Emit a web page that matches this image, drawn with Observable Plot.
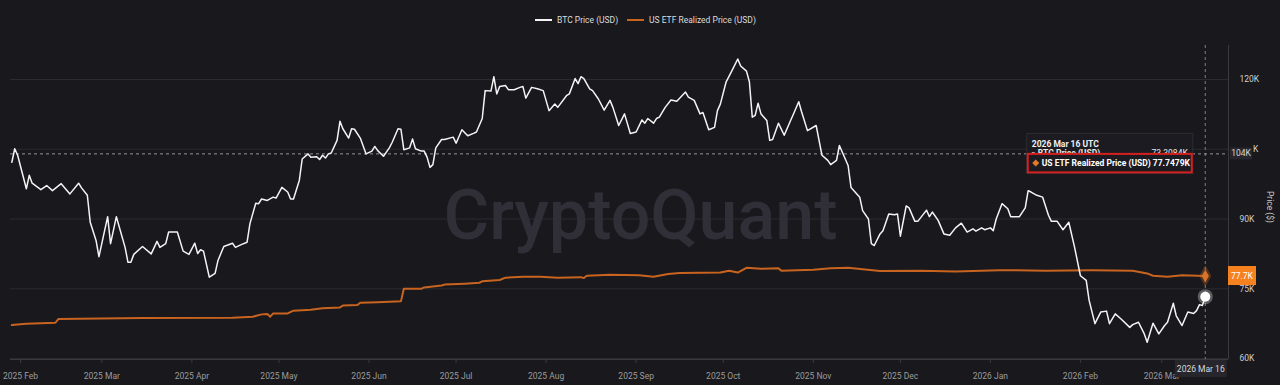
<!DOCTYPE html>
<html><head><meta charset="utf-8">
<script src="https://cdn.jsdelivr.net/npm/d3@7"></script>
<script src="https://cdn.jsdelivr.net/npm/@observablehq/plot@0.6"></script>
<style>
html,body{margin:0;padding:0;background:#18181d;width:1280px;height:385px;overflow:hidden;font-family:Roboto,"Noto Sans",sans-serif;}
#legend{position:relative;height:40px;width:1280px;}
.item{position:absolute;top:15px;display:flex;align-items:center;font-size:8.5px;color:#dcdcdc;white-space:nowrap;}
.sw{width:17px;height:2px;margin-right:5px;}
#chart{position:absolute;top:40px;left:0;}
</style></head><body>
<div id="legend">
  <div class="item" style="left:535px"><span class="sw" style="background:#f4f4f4"></span>BTC Price (USD)</div>
  <div class="item" style="left:627px"><span class="sw" style="background:#c8641f"></span>US ETF Realized Price (USD)</div>
</div>
<div id="chart"></div>
<script>
const btcDates = ["2025-01-29","2025-01-30","2025-01-31","2025-02-03","2025-02-04","2025-02-05","2025-02-08","2025-02-10","2025-02-12","2025-02-15","2025-02-18","2025-02-21","2025-02-22","2025-02-24","2025-02-25","2025-02-27","2025-02-28","2025-03-03","2025-03-04","2025-03-06","2025-03-09","2025-03-10","2025-03-11","2025-03-12","2025-03-15","2025-03-18","2025-03-20","2025-03-21","2025-03-23","2025-03-24","2025-03-27","2025-03-29","2025-03-31","2025-04-02","2025-04-03","2025-04-04","2025-04-05","2025-04-07","2025-04-09","2025-04-10","2025-04-12","2025-04-15","2025-04-16","2025-04-18","2025-04-20","2025-04-21","2025-04-23","2025-04-24","2025-04-25","2025-04-27","2025-04-29","2025-04-30","2025-05-02","2025-05-04","2025-05-05","2025-05-06","2025-05-08","2025-05-09","2025-05-11","2025-05-12","2025-05-14","2025-05-15","2025-05-16","2025-05-17","2025-05-18","2025-05-19","2025-05-21","2025-05-22","2025-05-23","2025-05-25","2025-05-26","2025-05-27","2025-05-29","2025-05-31","2025-06-02","2025-06-03","2025-06-04","2025-06-06","2025-06-08","2025-06-09","2025-06-11","2025-06-12","2025-06-13","2025-06-15","2025-06-16","2025-06-17","2025-06-19","2025-06-20","2025-06-21","2025-06-22","2025-06-23","2025-06-24","2025-06-26","2025-06-27","2025-06-30","2025-07-01","2025-07-03","2025-07-05","2025-07-07","2025-07-08","2025-07-10","2025-07-11","2025-07-13","2025-07-14","2025-07-15","2025-07-16","2025-07-18","2025-07-19","2025-07-21","2025-07-23","2025-07-24","2025-07-25","2025-07-27","2025-07-29","2025-07-31","2025-08-02","2025-08-04","2025-08-05","2025-08-08","2025-08-09","2025-08-11","2025-08-12","2025-08-13","2025-08-14","2025-08-16","2025-08-17","2025-08-19","2025-08-21","2025-08-23","2025-08-24","2025-08-26","2025-08-28","2025-08-30","2025-09-01","2025-09-03","2025-09-04","2025-09-05","2025-09-07","2025-09-08","2025-09-09","2025-09-11","2025-09-13","2025-09-15","2025-09-18","2025-09-19","2025-09-21","2025-09-23","2025-09-24","2025-09-26","2025-09-28","2025-09-29","2025-09-30","2025-10-02","2025-10-04","2025-10-06","2025-10-07","2025-10-09","2025-10-10","2025-10-11","2025-10-12","2025-10-13","2025-10-14","2025-10-16","2025-10-17","2025-10-18","2025-10-20","2025-10-22","2025-10-24","2025-10-25","2025-10-27","2025-10-28","2025-10-30","2025-11-02","2025-11-04","2025-11-06","2025-11-07","2025-11-09","2025-11-10","2025-11-13","2025-11-14","2025-11-17","2025-11-18","2025-11-20","2025-11-21","2025-11-22","2025-11-24","2025-11-25","2025-11-27","2025-11-29","2025-11-30","2025-12-01","2025-12-03","2025-12-04","2025-12-06","2025-12-07","2025-12-09","2025-12-10","2025-12-11","2025-12-12","2025-12-14","2025-12-16","2025-12-18","2025-12-20","2025-12-22","2025-12-24","2025-12-26","2025-12-27","2025-12-29","2025-12-30","2026-01-01","2026-01-02","2026-01-03","2026-01-05","2026-01-07","2026-01-08","2026-01-11","2026-01-13","2026-01-14","2026-01-15","2026-01-17","2026-01-19","2026-01-21","2026-01-22","2026-01-24","2026-01-26","2026-01-28","2026-01-30","2026-02-01","2026-02-03","2026-02-04","2026-02-06","2026-02-08","2026-02-10","2026-02-11","2026-02-13","2026-02-15","2026-02-18","2026-02-19","2026-02-21","2026-02-23","2026-02-24","2026-02-26","2026-02-28","2026-03-02","2026-03-03","2026-03-05","2026-03-06","2026-03-08","2026-03-10","2026-03-12","2026-03-13","2026-03-14","2026-03-15","2026-03-16"];
const btcValues = [102.2,105.1,103.7,96.5,99.4,97.7,96.3,97.2,96.1,97.6,95.4,97.7,96.7,95.1,89.3,85.4,81.9,90.5,84.7,90.5,83.9,80.7,80.7,82.4,84.1,82.5,85.2,83.9,84.7,87.2,87.2,83.1,82.4,84.8,82.6,83.4,83.1,77.5,78.3,81.1,84.1,84.8,83.9,84.5,85.0,89.0,93.4,93.3,94.3,94.0,94.7,94.5,96.8,95.8,94.3,94.3,98.3,102.9,104.0,103.3,103.4,102.8,103.7,103.1,104.0,104.2,106.9,111.0,109.4,107.4,109.4,109.3,107.4,104.0,104.6,105.6,104.7,103.5,105.3,106.5,109.4,109.3,104.9,105.3,107.2,105.1,104.6,104.6,103.3,101.1,101.7,105.3,107.1,107.1,107.6,106.3,109.2,107.9,108.4,108.7,111.6,117.6,117.5,120.6,116.9,118.5,118.7,117.8,117.8,118.3,118.5,116.0,118.3,118.0,117.6,113.3,114.7,114.0,116.5,116.9,120.2,119.1,120.6,120.2,118.0,117.6,115.8,113.4,115.5,114.0,110.1,112.6,108.4,108.7,111.3,110.6,111.6,110.6,111.6,111.9,114.0,115.6,115.3,117.3,116.2,115.5,112.6,112.9,109.2,109.7,113.3,114.7,119.5,121.9,124.4,122.9,121.8,119.5,111.9,112.3,114.9,112.6,111.2,106.9,107.1,110.6,108.0,110.9,112.3,115.2,113.0,109.0,110.1,103.7,102.6,101.7,102.6,105.8,101.5,96.8,94.7,91.8,90.0,84.7,84.3,86.8,87.5,91.1,90.9,91.1,86.3,92.8,92.4,89.5,89.5,91.1,91.9,90.5,91.5,89.7,86.8,86.5,88.1,89.1,87.2,87.9,87.4,88.1,87.7,88.1,87.5,90.0,93.3,92.2,90.5,90.5,92.4,96.1,95.8,95.1,94.7,90.8,89.5,89.5,87.7,89.3,83.9,77.8,76.8,72.5,67.5,70.0,70.2,67.5,69.6,68.5,66.7,67.3,67.8,65.3,63.5,67.6,65.3,67.1,67.8,71.9,69.2,67.1,70.0,69.7,70.3,71.6,71.4,73.3084];
const etfDates = ["2025-01-29","2025-02-03","2025-02-13","2025-02-14","2025-03-15","2025-04-15","2025-04-22","2025-04-25","2025-04-27","2025-04-28","2025-04-29","2025-05-04","2025-05-06","2025-05-12","2025-05-16","2025-05-22","2025-05-23","2025-05-28","2025-05-29","2025-06-04","2025-06-12","2025-06-13","2025-06-19","2025-06-20","2025-06-26","2025-06-27","2025-07-04","2025-07-09","2025-07-10","2025-07-16","2025-07-18","2025-07-24","2025-07-30","2025-08-05","2025-08-13","2025-08-14","2025-08-15","2025-08-23","2025-09-02","2025-09-07","2025-09-12","2025-09-16","2025-09-30","2025-10-03","2025-10-06","2025-10-09","2025-10-14","2025-10-20","2025-10-21","2025-11-01","2025-11-07","2025-11-13","2025-11-18","2025-11-24","2025-12-08","2025-12-20","2026-01-04","2026-01-20","2026-02-05","2026-02-19","2026-02-24","2026-02-26","2026-03-03","2026-03-08","2026-03-16"];
const etfValues = [67.2,67.5,67.7,68.5,68.7,68.8,69.0,69.5,69.6,69.0,69.7,69.7,70.3,70.5,70.8,71.0,71.4,71.5,72.0,72.1,72.3,75.0,75.0,75.3,75.7,75.9,76.1,76.3,76.6,76.9,77.4,77.6,77.6,77.4,77.5,77.3,77.8,78.0,77.9,77.6,78.2,78.4,78.5,78.9,78.5,79.5,79.3,79.4,78.9,79.1,79.4,79.5,79.2,78.8,78.9,78.7,79.0,78.9,79.0,78.9,78.3,77.8,77.6,77.9,77.7479];
const yTicks = [60, 75, 90, 105, 120];
const crossValue = 104;
const btcLabel = "BTC Price (USD)";
const etfLabel = "US ETF Realized Price (USD)";
const watermark = "CryptoQuant";

const parse = d3.utcParse("%Y-%m-%d");
const btc = btcDates.map((d, i) => ({date: parse(d), value: btcValues[i]}));
const etf = etfDates.map((d, i) => ({date: parse(d), value: etfValues[i]}));
const lastBtc = btc[btc.length - 1], lastEtf = etf[etf.length - 1];
const xDomain = [new Date(Date.UTC(2025, 0, 28, 13)), new Date(Date.UTC(2026, 2, 24, 0))];
const yDomain = [59.8, 127.3];
const orangeLine = "#c8641f";
// the crosshair value badge hides the digits of the nearest tick label, leaving only its unit
const hiddenTick = yTicks.find(t => Math.abs(t - crossValue) < 3);
const shownTicks = yTicks.filter(t => t !== hiddenTick);

const plot = Plot.plot({
  width: 1280, height: 345, marginTop: 5, marginBottom: 26, marginLeft: 10, marginRight: 52,
  style: {background: "transparent", color: "#a0a0a0", fontFamily: "Roboto, sans-serif", fontSize: "8.5px"},
  x: {type: "utc", domain: xDomain},
  y: {domain: yDomain},
  marks: [
    Plot.gridY(yTicks, {stroke: "#2b2b32", strokeOpacity: 1}),
    Plot.text([watermark], {frameAnchor: "middle", dx: 21, dy: 14, fontSize: 70, fontWeight: 500, fill: "#302f38"}),
    Plot.ruleY([yDomain[0]], {stroke: "#3a3a41"}),
    Plot.ruleX([xDomain[1]], {stroke: "#3a3a41"}),
    Plot.axisX({ticks: d3.utcMonth.every(1), tickFormat: d3.utcFormat("%Y %b"), tickSize: 4, tickPadding: 9, stroke: "#3a3a41", fill: "#9c9c9c", label: null}),
    Plot.axisY({anchor: "right", ticks: shownTicks, tickFormat: d => d + "K", tickSize: 0, tickPadding: 11, fill: "#d0d0d0", label: null}),
    Plot.ruleY([crossValue], {stroke: "#b5b5b5", strokeDasharray: "3,3", strokeWidth: 0.8}),
    Plot.ruleX([lastBtc.date], {stroke: "#9a9a9a", strokeDasharray: "3,3", strokeWidth: 0.8}),
    Plot.line(etf, {x: "date", y: "value", stroke: orangeLine, strokeWidth: 2}),
    Plot.line(btc, {x: "date", y: "value", stroke: "#f4f4f4", strokeWidth: 1.5}),
    Plot.dot([lastEtf], {x: "date", y: "value", symbol: "diamond", r: 6.5, fill: orangeLine, fillOpacity: 0.35}),
    Plot.dot([lastEtf], {x: "date", y: "value", symbol: "diamond", r: 3.8, fill: "#d9742a"}),
    Plot.dot([lastBtc], {x: "date", y: "value", r: 7.5, fill: "#ffffff", fillOpacity: 0.3}),
    Plot.dot([lastBtc], {x: "date", y: "value", r: 5, fill: "#ffffff"})
  ]
});
document.getElementById("chart").appendChild(plot);

const sx = plot.scale("x"), sy = plot.scale("y");
const svg = d3.select(plot);
const cx = sx.apply(lastBtc.date), cy = sy.apply(crossValue);
const xRight = sx.range[1];
const fmtDay = d3.utcFormat("%Y %b %-d");
const ov = svg.append("g").attr("text-anchor", "start").attr("font-family", "Roboto, sans-serif");

// remnant unit of hidden tick label
if (hiddenTick != null) {
  ov.append("text").attr("x", xRight + 25).attr("y", sy.apply(hiddenTick) + 3).attr("font-size", 8.5).attr("fill", "#d0d0d0").text("K");
}
// crosshair value label on y axis
ov.append("rect").attr("x", xRight + 2).attr("y", cy - 6).attr("width", 22).attr("height", 12).attr("fill", "#26262c");
ov.append("text").attr("x", xRight + 13).attr("y", cy + 3).attr("text-anchor", "middle").attr("font-size", 8.5).attr("fill", "#d8d8d8").text(crossValue + "K");

// last ETF value badge
const ey = sy.apply(lastEtf.value);
ov.append("rect").attr("x", xRight).attr("y", ey - 9.5).attr("width", 28).attr("height", 19).attr("fill", "#f5821f");
ov.append("text").attr("x", xRight + 14).attr("y", ey + 3).attr("text-anchor", "middle").attr("font-size", 8.5).attr("fill", "#ffffff").text(d3.format(".1f")(lastEtf.value) + "K");

// crosshair date label on x axis
const by = sy.range[0];
ov.append("rect").attr("x", cx - 30).attr("y", by + 1).attr("width", 52).attr("height", 17).attr("fill", "#26262c");
ov.append("text").attr("x", cx - 4).attr("y", by + 13).attr("text-anchor", "middle").attr("font-size", 8.5).attr("fill", "#d8d8d8").text(fmtDay(lastBtc.date));

// axis title
ov.append("text").attr("transform", `translate(${xRight + 39},${(sy.range[0] + sy.range[1]) / 2 + 5}) rotate(90)`).attr("text-anchor", "middle").attr("font-size", 8.5).attr("fill", "#c8c8c8").text("Price ($)");

// tooltip
const tl = cx - 178, tt = cy - 20;
const tip = ov.append("g").attr("font-size", 8.5).attr("font-weight", 700);
tip.append("rect").attr("x", tl).attr("y", tt).attr("width", 166).attr("height", 40).attr("fill", "#1c1b21").attr("stroke", "#2d2d34");
tip.append("text").attr("x", tl + 5).attr("y", tt + 14).attr("fill", "#f0f0f0").text(fmtDay(lastBtc.date) + " UTC");
tip.append("rect").attr("x", tl + 5).attr("y", tt + 19).attr("width", 3).attr("height", 3).attr("fill", "#ffffff");
tip.append("text").attr("x", tl + 11).attr("y", tt + 23).attr("fill", "#e8e8e8").text(btcLabel);
tip.append("text").attr("x", tl + 161).attr("y", tt + 23).attr("text-anchor", "end").attr("fill", "#e8e8e8").attr("font-weight", 400).text(d3.format(".4f")(lastBtc.value) + "K");
tip.append("rect").attr("x", tl + 1).attr("y", tt + 20.5).attr("width", 164).attr("height", 18.5).attr("fill", "#1c1b21").attr("stroke", "#d61f1f").attr("stroke-width", 2);
tip.append("path").attr("d", `M${tl + 9},${tt + 26} l3.5,3.5 l-3.5,3.5 l-3.5,-3.5 z`).attr("fill", "#e07a2a");
tip.append("text").attr("x", tl + 15).attr("y", tt + 33).attr("fill", "#ffffff").attr("font-size", 8.5).text(etfLabel + " " + d3.format(".4f")(lastEtf.value) + "K");
</script>
</body></html>
